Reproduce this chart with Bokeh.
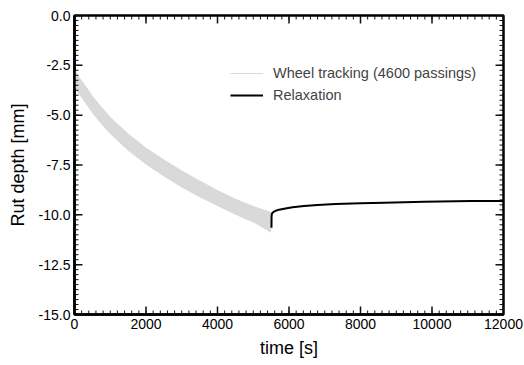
from bokeh.plotting import figure
from bokeh.models import FixedTicker, NumeralTickFormatter, Legend, LegendItem, Range1d
from bokeh.embed import file_html
from bokeh.resources import INLINE

# Wheel tracking band (envelope of the 4600 passings)
wt_time = [0, 100, 250, 500, 750, 1000, 1500, 2000, 2500, 3000, 3500, 4000, 4500, 5000, 5500]
wt_upper = [-2.75, -3.05, -3.4, -4.05, -4.6, -5.1, -5.95, -6.65, -7.25, -7.8, -8.3, -8.78, -9.22, -9.58, -9.88]
wt_lower = [-3.6, -3.9, -4.25, -4.9, -5.45, -5.95, -6.78, -7.48, -8.08, -8.63, -9.12, -9.56, -10.0, -10.38, -10.9]

# Relaxation
rel_time = [5510, 5512, 5520, 5540, 5580, 5650, 5720, 5900, 6100, 6420, 6800, 7300, 8000, 8660, 9780, 11080, 12000]
rel_depth = [-10.65, -10.1, -9.96, -9.9, -9.84, -9.78, -9.74, -9.68, -9.62, -9.56, -9.51, -9.46, -9.42, -9.39, -9.34, -9.31, -9.3]

x_ticks = [0, 2000, 4000, 6000, 8000, 10000, 12000]
y_ticks = [-15.0, -12.5, -10.0, -7.5, -5.0, -2.5, 0.0]
x_minor = [i * 200 for i in range(61)]
y_minor = [-15 + i * 0.25 for i in range(61)]

FONT = "Liberation Sans"
TICK = "#111111"
X0, X1, Y0, Y1 = 0, 12000, -15, 0
FW, FH = 429, 299

p = figure(frame_width=FW, frame_height=FH, output_backend="svg", toolbar_location=None,
           x_range=Range1d(X0, X1), y_range=Range1d(Y0, Y1),
           min_border_left=74, min_border_right=21, min_border_top=15, min_border_bottom=51)
p.background_fill_color = "white"
p.border_fill_color = "white"
p.grid.visible = False
p.outline_line_color = "black"
p.outline_line_width = 2.5

band = p.varea(x=wt_time, y1=wt_upper, y2=wt_lower, fill_color="#d9d9d9")
wt_line = p.line(wt_time, wt_upper, line_color="#d9d9d9", line_width=1)
rel_line = p.line(rel_time, rel_depth, line_color="black", line_width=2)

# inward ticks on all four sides (lengths in pixels converted to data units)
dx_per_px = (X1 - X0) / FW
dy_per_px = (Y1 - Y0) / FH
def ticks_x(vals, length_px, width):
    L = length_px * dy_per_px
    n = len(vals)
    p.segment(x0=vals, y0=[Y0] * n, x1=vals, y1=[Y0 + L] * n, line_color=TICK, line_width=width)
    p.segment(x0=vals, y0=[Y1] * n, x1=vals, y1=[Y1 - L] * n, line_color=TICK, line_width=width)
def ticks_y(vals, length_px, width):
    L = length_px * dx_per_px
    n = len(vals)
    p.segment(x0=[X0] * n, y0=vals, x1=[X0 + L] * n, y1=vals, line_color=TICK, line_width=width)
    p.segment(x0=[X1] * n, y0=vals, x1=[X1 - L] * n, y1=vals, line_color=TICK, line_width=width)
ticks_x(x_minor, 4, 1)
ticks_y(y_minor, 4, 1)
ticks_x(x_ticks, 8, 1.5)
ticks_y(y_ticks, 8, 1.5)

p.xaxis.ticker = FixedTicker(ticks=x_ticks, minor_ticks=[])
p.yaxis.ticker = FixedTicker(ticks=y_ticks, minor_ticks=[])
p.yaxis.formatter = NumeralTickFormatter(format="0.0")
for ax in (p.xaxis[0], p.yaxis[0]):
    ax.axis_line_width = 2.5
    ax.axis_line_color = "black"
    ax.major_tick_in = 0
    ax.major_tick_out = 0
    ax.minor_tick_in = 0
    ax.minor_tick_out = 0
    ax.major_label_text_font = FONT
    ax.major_label_text_color = "black"
    ax.major_label_text_font_size = "14px"
    ax.major_label_standoff = 4
    ax.axis_label_text_font = FONT
    ax.axis_label_text_font_style = "normal"
    ax.axis_label_text_color = "black"
    ax.axis_label_text_font_size = "18px"
p.xaxis.axis_label = "time [s]"
p.yaxis.axis_label = "Rut depth [mm]"
p.xaxis.axis_label_standoff = 6
p.yaxis.axis_label_standoff = 8

legend = Legend(items=[LegendItem(label="Wheel tracking (4600 passings)", renderers=[wt_line]),
                       LegendItem(label="Relaxation", renderers=[rel_line])],
                location=(156, 209))
legend.background_fill_alpha = 0
legend.border_line_color = None
legend.label_text_font = FONT
legend.label_text_font_size = "14.5px"
legend.glyph_width = 33
legend.glyph_height = 20
legend.label_standoff = 10
legend.spacing = 2
legend.padding = 10
legend.margin = 0
p.add_layout(legend, "center")

open("out.html", "w").write(file_html(p, INLINE))
